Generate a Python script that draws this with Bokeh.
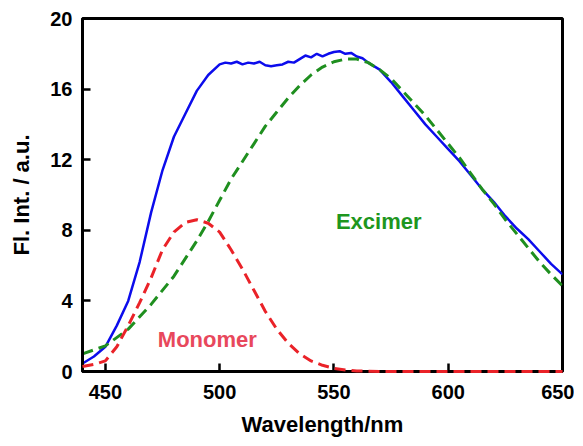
from bokeh.plotting import figure
from bokeh.models import FixedTicker, Range1d
from bokeh.embed import file_html
from bokeh.resources import INLINE
from bokeh.core.properties import value

# ---- data ----
wl_total = [440, 445, 450, 455, 460, 465, 470, 475, 480, 485, 490, 495, 500,
            502.5, 505, 507.5, 510, 512.5, 515, 517.5, 520, 522.5, 525, 527.5,
            530, 532.5, 535, 537.5, 540, 542.5, 545, 547.5, 550, 552.5, 555,
            557.5, 560, 562.5, 565, 570, 575, 580, 585, 590, 595, 600, 605,
            610, 615, 620, 625, 630, 635, 640, 645, 650]
fl_total = [0.45, 0.85, 1.4, 2.6, 4.0, 6.2, 9.0, 11.4, 13.3, 14.6, 15.9, 16.8, 17.4,
            17.5, 17.45, 17.55, 17.4, 17.5, 17.45, 17.55, 17.35, 17.3, 17.35, 17.4,
            17.55, 17.5, 17.7, 17.9, 17.8, 18.0, 17.85, 18.0, 18.1, 18.15, 18.0,
            18.05, 17.85, 17.75, 17.5, 17.1, 16.4, 15.6, 14.8, 14.0, 13.3, 12.6, 11.9,
            11.1, 10.3, 9.6, 8.8, 8.1, 7.5, 6.8, 6.1, 5.5]

wl_excimer = [440, 450, 460, 470, 480, 490, 495, 500, 505, 510, 515, 520, 525,
              530, 535, 540, 545, 550, 555, 560, 565, 570, 575, 580, 585, 590,
              595, 600, 605, 610, 615, 620, 625, 630, 635, 640, 645, 650]
fl_excimer = [1.0, 1.45, 2.4, 3.8, 5.4, 7.4, 8.5, 9.7, 10.9, 11.9, 12.9, 13.9, 14.7,
              15.5, 16.2, 16.8, 17.25, 17.55, 17.7, 17.7, 17.5, 17.1, 16.6, 15.9, 15.2, 14.5,
              13.7, 12.9, 12.1, 11.2, 10.3, 9.5, 8.6, 7.8, 7.0, 6.2, 5.5, 4.85]

wl_monomer = [440, 445, 450, 455, 460, 465, 470, 475, 480, 485, 490, 495, 500,
              505, 510, 515, 520, 525, 530, 535, 540, 545, 550, 555, 560, 570,
              580, 600, 620, 650]
fl_monomer = [0.28, 0.4, 0.6, 1.4, 2.6, 3.9, 5.3, 6.9, 7.9, 8.45, 8.6, 8.4, 7.9,
              6.9, 5.8, 4.6, 3.4, 2.4, 1.6, 1.0, 0.6, 0.35, 0.18, 0.08, 0.03, 0.0,
              0.0, 0.0, 0.0, 0.0]

x_ticks = [450, 500, 550, 600, 650]
y_ticks = [0, 4, 8, 12, 16, 20]

# annotation placement
excimer_label = ("Excimer", 569.6, 8.52)
monomer_label = ("Monomer", 494.6, 1.81)

FONT = "Liberation Sans"

p = figure(frame_width=480, frame_height=353,
           x_range=Range1d(440, 650), y_range=Range1d(0, 20),
           output_backend="svg", toolbar_location=None,
           min_border_left=82, min_border_top=18, min_border_right=12,
           min_border_bottom=60)
p.background_fill_color = "white"
p.border_fill_color = "white"
p.outline_line_color = "black"
p.outline_line_width = 3
p.xgrid.visible = False
p.ygrid.visible = False

p.line(wl_total, fl_total, line_color="#0c0cec", line_width=2.5)
p.line(wl_excimer, fl_excimer, line_color="#1f8f1f", line_width=3, line_dash="11 6")
p.line(wl_monomer, fl_monomer, line_color="#ea2228", line_width=3, line_dash="11 6",
       level="overlay")

p.text(x=[excimer_label[1]], y=[excimer_label[2]], text=[excimer_label[0]],
       text_color="#1e961e", text_font=value(FONT), text_font_style="bold",
       text_font_size="22px", text_align="center", text_baseline="alphabetic")
p.text(x=[monomer_label[1]], y=[monomer_label[2]], text=[monomer_label[0]],
       text_color="#e8485c", text_font=value(FONT), text_font_style="bold",
       text_font_size="22px", text_align="center", text_baseline="alphabetic")

for ax in (p.xaxis[0], p.yaxis[0]):
    ax.axis_line_color = "black"
    ax.axis_line_width = 3
    ax.major_tick_line_color = "black"
    ax.major_tick_line_width = 2.5
    ax.major_tick_in = 8
    ax.major_tick_out = 0
    ax.minor_tick_line_color = None
    ax.major_label_text_font = FONT
    ax.major_label_text_font_style = "bold"
    ax.major_label_text_font_size = "20px"
    ax.major_label_text_color = "black"
    ax.axis_label_text_font = FONT
    ax.axis_label_text_font_style = "bold"
    ax.axis_label_text_font_size = "22px"
    ax.axis_label_text_color = "black"

p.xaxis.ticker = FixedTicker(ticks=x_ticks)
p.yaxis.ticker = FixedTicker(ticks=y_ticks)
p.xaxis.axis_label = "Wavelength/nm"
p.yaxis.axis_label = "Fl. Int. / a.u."
p.xaxis.major_label_standoff = 13
p.yaxis.major_label_standoff = 10
p.xaxis.axis_label_standoff = 10
p.yaxis.axis_label_standoff = 13

open("out.html", "w").write(file_html(p, INLINE))
